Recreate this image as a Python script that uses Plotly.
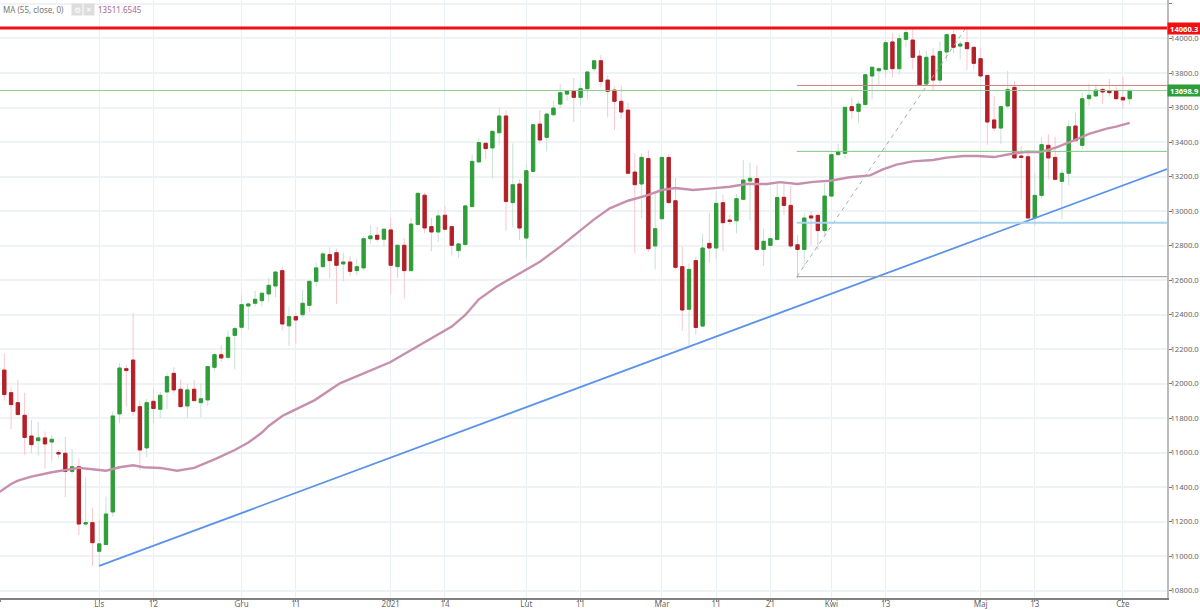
import plotly.graph_objects as go

# candle values, index 0..166
opens = [12079,11948,11890,11817,11697,11670,11686,11662,11601,11597,11492,11519,11187,11195,11029,11068,11257,11825,12087,12137,
11867,11628,11898,11852,11952,12060,11968,11871,11968,11890,11906,12095,12168,12153,12280,12327,12450,12466,12481,12520,
12566,12655,12335,12389,12400,12454,12593,12678,12748,12759,12694,12705,12655,12671,12840,12860,12837,12891,12678,12802,
12655,12922,13092,12910,12879,12976,12910,12771,12806,13026,13285,13393,13366,13454,13551,13049,13157,12844,13230,13504,
13427,13558,13620,13678,13694,13659,13709,13825,13871,13759,13701,13636,13585,13226,13157,13304,12798,12956,13311,13060,
12678,12431,12713,12334,12813,12786,13049,12948,12944,13068,13174,13188,12778,12801,12836,13080,13033,12805,12778,12972,
12975,12887,13087,13327,13335,13605,13578,13617,13783,13813,13821,13980,13825,13995,13991,13898,13736,13898,13759,13922,
14022,13956,13976,13949,13883,13786,13528,13481,13609,13717,13319,13315,12960,13091,13381,13311,13172,13219,13493,13381,
13651,13667,13705,13698,13698,13659,13651]
highs = [12176,11983,12022,11948,11790,11778,11724,11703,11616,11693,11620,11566,11458,11280,11211,11346,11838,12118,12108,12408,
11902,11913,11973,11952,12064,12095,12025,11998,12022,12002,12103,12176,12222,12307,12331,12512,12470,12539,12532,12613,
12651,12678,12447,12412,12543,12605,12701,12767,12790,12783,12759,12740,12725,12856,12918,12910,12898,12960,12806,12844,
12960,13107,13107,12960,13003,13030,12914,12813,13034,13327,13420,13397,13466,13601,13585,13392,13184,13273,13504,13585,
13566,13639,13736,13701,13771,13744,13806,13879,13904,13786,13721,13728,13628,13334,13334,13354,13103,13315,13327,13191,
12794,12697,12736,12867,12991,13118,13095,12979,13099,13296,13280,13265,12898,12840,13161,13169,13145,12860,12987,13002,
12987,13161,13335,13389,13605,13655,13640,13794,13841,13833,13991,14030,14030,14065,14053,13933,13929,13945,13980,14030,
14049,13987,14068,13953,13949,13786,13667,13609,13813,13752,13377,13350,13223,13427,13447,13431,13242,13524,13570,13686,
13740,13729,13713,13767,13721,13779,13705]
lows = [11902,11736,11819,11589,11597,11585,11508,11550,11570,11342,11477,11122,11172,10944,10944,11064,11230,11771,11867,11813,
11500,11574,11774,11801,11852,11944,11863,11801,11896,11805,11871,12076,12126,12141,12083,12311,12311,12447,12447,12474,
12501,12308,12219,12234,12385,12416,12566,12674,12609,12462,12593,12624,12628,12655,12810,12821,12798,12520,12613,12493,
12651,12918,12871,12767,12821,12887,12744,12728,12802,13022,13281,13300,13188,13383,12886,12906,12832,12728,13226,13388,
13346,13555,13597,13639,13516,13612,13647,13809,13717,13543,13470,13535,13215,12755,12960,12763,12662,12948,13045,12662,
12307,12222,12284,12330,12701,12724,12767,12921,12871,13064,12944,12767,12682,12794,12828,12979,12782,12609,12678,12802,
12775,12862,13084,13323,13304,13535,13512,13613,13647,13732,13775,13775,13790,13949,13821,13725,13732,13701,13740,13868,
13914,13879,13817,13821,13771,13383,13462,13389,13593,13304,13064,12956,12914,13072,13184,13180,12952,13149,13404,13358,
13609,13663,13620,13663,13647,13593,13617]
closes = [11937,11879,11821,11689,11647,11686,11651,11678,11593,11492,11519,11187,11195,11079,11072,11245,11813,12091,12076,11840,
11616,11890,11856,11933,12041,11964,11867,11964,11902,11913,12099,12168,12149,12269,12319,12458,12462,12489,12524,12570,
12647,12346,12389,12369,12466,12593,12671,12752,12713,12686,12705,12651,12678,12840,12856,12837,12895,12686,12802,12655,
12925,13103,12902,12879,12972,12895,12802,12810,13030,13288,13397,13362,13462,13551,13056,13153,12902,13234,13500,13412,
13562,13597,13686,13697,13659,13709,13806,13871,13751,13694,13636,13574,13219,13153,13311,12782,12898,13311,13049,12674,
12427,12662,12326,12786,12786,13045,12933,12940,13072,13180,13190,12778,12825,12840,13079,13033,12798,12778,12960,12960,
12887,13087,13327,13344,13601,13582,13620,13790,13833,13825,13976,13825,13999,14034,13891,13732,13891,13759,13925,14022,
13949,13968,13941,13856,13783,13516,13481,13605,13705,13308,13311,12960,13091,13385,13308,13184,13219,13489,13408,13651,
13671,13701,13690,13686,13651,13644,13698.9]

ma_index = [-1,1,2,4,7,9,11,13,15,17,19,20.5,23,25.5,28,31,34,36,38,39,41,42,45.8,49.5,53.5,56.9,59,61.3,63.2,66,68,70,72.6,75,77,79,82,85,87,89.3,92,94.8,97,99,101.6,104,107,109.5,112.5,114.4,117,119.3,121.8,124.7,127.7,129.6,131.6,134,137,139,141.5,143.5,146,148.4,150.8,152.8,155.2,157.7,160,162.6,164,166]
ma_values = [11365,11419,11438,11462,11487,11500,11512,11504,11496,11516,11527,11516,11512,11496,11512,11562,11616,11659,11717,11755,11813,11832,11905,12002,12068,12124,12172,12224,12263,12331,12398,12489,12562,12616,12659,12707,12794,12890,12952,13016,13060,13091,13122,13134,13122,13130,13141,13157,13157,13168,13157,13169,13176,13196,13207,13242,13269,13288,13296,13310,13319,13319,13313,13331,13344,13342,13369,13408,13447,13478,13489,13511.65]

x_min, x_max = -0.634, 171.5
y_min, y_max = 10758.4, 14223
tick_index = [x_min + 0.01,14,22,35,43,57,65,77,85,97,105,113,122,130,144,152,165]
tick_labels = ["28","Lis","12","Gru","11","2021","14","Lut","11","Mar","11","21","Kwi","13","Maj","13","Cze"]
price_ticks = [14200,14000,13800,13600,13400,13200,13000,12800,12600,12400,12200,12000,11800,11600,11400,11200,11000,10800]

trend_x = [14,171.5]
trend_y = [10944,13244]
diag_x = [116.9,141.7]
diag_y = [12620,14053]
level_red = 14060.3
level_last = 13698.9
level_a = 13728
level_b = 13346
level_c = 12933
level_d = 12620
level_start = 116.9

x = list(range(len(opens)))
UP, DOWN = "#2f9e38", "#b22028"
UPW, DOWNW = "#c6e2d2", "#f8c6ce"

fig = go.Figure()
# wicks
fig.add_trace(go.Candlestick(x=x, open=opens, high=highs, low=lows, close=closes,
    increasing=dict(line=dict(color=UPW, width=1), fillcolor=UPW),
    decreasing=dict(line=dict(color=DOWNW, width=1), fillcolor=DOWNW),
    whiskerwidth=0, showlegend=False, hoverinfo="skip"))
# bodies
tops = [max(o, c) for o, c in zip(opens, closes)]
bots = [min(o, c) for o, c in zip(opens, closes)]
fig.add_trace(go.Candlestick(x=x, open=opens, high=tops, low=bots, close=closes,
    increasing=dict(line=dict(color=UP, width=1), fillcolor=UP),
    decreasing=dict(line=dict(color=DOWN, width=1), fillcolor=DOWN),
    whiskerwidth=0, showlegend=False))

fig.add_trace(go.Scatter(x=ma_index, y=ma_values, mode="lines", line=dict(color="#c690ad", width=2.4), showlegend=False))
fig.add_trace(go.Scatter(x=trend_x, y=trend_y, mode="lines", line=dict(color="#5b93ea", width=1.8), showlegend=False))
fig.add_trace(go.Scatter(x=diag_x, y=diag_y, mode="lines", line=dict(color="#aaaaaa", width=1, dash="4px,4px"), showlegend=False))

def hline(x0, level, color, width):
    fig.add_trace(go.Scatter(x=[x0, x_max], y=[level, level], mode="lines",
                             line=dict(color=color, width=width), showlegend=False))

hline(level_start, level_a, "#d08080", 1)
hline(level_start, level_b, "#80c880", 1)
hline(level_start, level_c, "#a9d3ec", 2)
hline(level_start, level_d, "#999999", 1)
hline(x_min, level_last, "#93cc93", 1)
hline(x_min, level_red, "#f01010", 3)

font = "Noto Sans"
FS = 8
FSY = 7.6
def tag(text, level, bg):
    fig.add_annotation(xref="paper", yref="y", x=1.0, y=level, xanchor="left", yanchor="middle",
                       text="<b>%s</b>" % text, showarrow=False, bgcolor=bg, borderpad=0,
                       font=dict(family=font, size=FSY, color="#ffffff"), width=33, height=11, align="center")

tag("14060.3", level_red, "#f01010")
tag("13698.9", level_last, "#2f9e38")

def label(px, text, color, size=FS, bg=None, w=None):
    fig.add_annotation(xref="paper", yref="paper", x=px / 1167, y=1 - 10 / 598, xanchor="left", yanchor="middle",
                       text=text, showarrow=False, font=dict(family=font, size=size, color=color),
                       bgcolor=bg, width=w, borderpad=0, height=11 if bg else None)

label(2, "MA (55, close, 0)", "#777777")
label(71, "⚙", "#ffffff", 8, "#dddddd", 10)
label(83, "✕", "#ffffff", 7, "#dddddd", 10)
label(97, "13511.6545", "#a8688c")

fig.update_layout(width=1200, height=610, margin=dict(l=0, r=33, t=0, b=12),
    paper_bgcolor="#ffffff", plot_bgcolor="#ffffff", showlegend=False, dragmode=False,
    font=dict(family=font, size=FS, color="#666666"),
    xaxis=dict(range=[x_min, x_max], automargin=False, tickmode="array", tickvals=tick_index, ticktext=tick_labels,
               rangeslider=dict(visible=False), showgrid=True, gridcolor="#e8f0f4", gridwidth=1,
               showline=True, linecolor="#808080", linewidth=1.5, ticks="outside", ticklen=2, tickcolor="#808080",
               ticklabelstandoff=-4,
               zeroline=False, tickfont=dict(family=font, size=FS, color="#666666")),
    yaxis=dict(range=[y_min, y_max], automargin=False, side="right", tickmode="array", tickvals=price_ticks,
               ticktext=["%.1f" % p for p in price_ticks], showgrid=True, gridcolor="#eff3f6", gridwidth=1.5,
               showline=True, linecolor="#bbbbbb", linewidth=2, ticks="outside", ticklen=3, tickcolor="#777777",
               ticklabelstandoff=-3,
               zeroline=False, tickfont=dict(family=font, size=FSY, color="#666666")))

fig.write_html("out.html", config=dict(displayModeBar=False),
               post_script="document.body.style.margin='0';document.body.style.overflow='hidden';")
